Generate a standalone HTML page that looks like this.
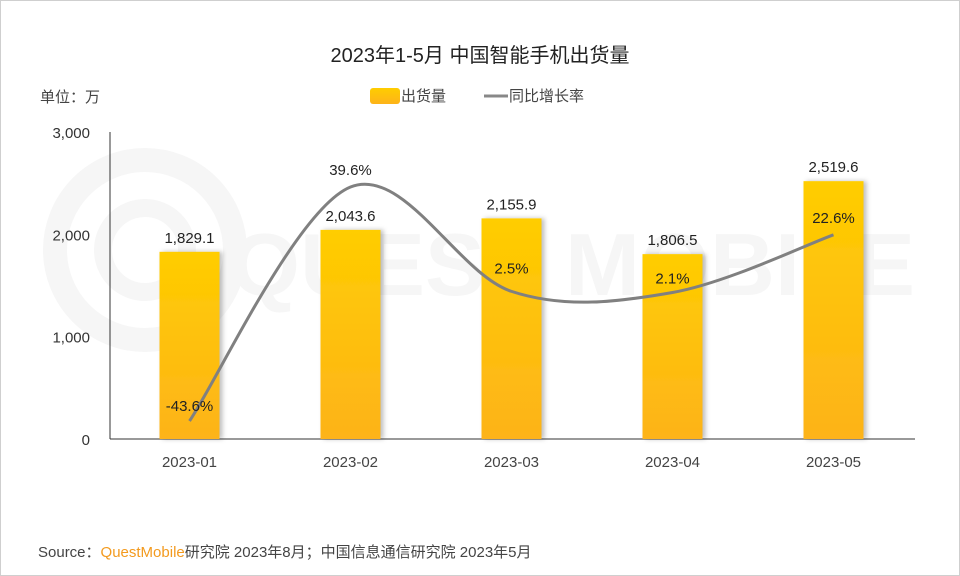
<!DOCTYPE html>
<html><head><meta charset="utf-8">
<style>
body{margin:0;background:#fff;}
svg{display:block;font-family:"Liberation Sans","Noto Sans CJK SC",sans-serif;}
</style></head>
<body>
<svg id="chart" width="960" height="576" viewBox="0 0 960 576">
<defs>
<linearGradient id="bg" x1="0" y1="0" x2="0" y2="1"><stop offset="0" stop-color="#FFCD00"/><stop offset="1" stop-color="#FDB31A"/></linearGradient>
<filter id="sh" x="-20%" y="-5%" width="150%" height="110%"><feDropShadow dx="3" dy="0" stdDeviation="2.5" flood-color="#000" flood-opacity="0.25"/></filter>
</defs>
<rect x="0.5" y="0.5" width="959" height="575" fill="#fff" stroke="#cfcfcf"/>
<g>
<circle cx="145" cy="250" r="90" fill="none" stroke="#f6f6f6" stroke-width="24"/>
<circle cx="145" cy="250" r="42" fill="none" stroke="#f6f6f6" stroke-width="18"/>
<text x="230" y="295" font-size="88" fill="#f6f6f6" font-weight="bold" textLength="685" lengthAdjust="spacingAndGlyphs">QUEST MOBILE</text>
</g>
<text x="480" y="62" text-anchor="middle" font-size="20" fill="#222">2023年1-5月 中国智能手机出货量</text>
<text x="40" y="102" font-size="15" fill="#444">单位：万</text>
<g>
<g><rect x="370" y="88" width="30" height="16" rx="3" fill="url(#bg)"/><text x="401" y="101" font-size="15" fill="#444">出货量</text></g>
<g><line x1="484" y1="96" x2="508" y2="96" stroke="#888" stroke-width="3"/><text x="509" y="101" font-size="15" fill="#444">同比增长率</text></g>
</g>
<g id="axes"></g>
<g id="bars"></g>
<g id="line"></g>
<text x="38" y="557" font-size="15" fill="#444">Source：<tspan fill="#F39A1E">QuestMobile</tspan>研究院 2023年8月；中国信息通信研究院 2023年5月</text>
</svg>
<script>
const categories=["2023-01","2023-02","2023-03","2023-04","2023-05"];
const shipments=[1829.1,2043.6,2155.9,1806.5,2519.6];
const shipmentLabels=["1,829.1","2,043.6","2,155.9","1,806.5","2,519.6"];
const growth=[-43.6,39.6,2.5,2.1,22.6];
const growthLabels=["-43.6%","39.6%","2.5%","2.1%","22.6%"];
const yTicks=[0,1000,2000,3000];
const yTickLabels=["0","1,000","2,000","3,000"];

const NS="http://www.w3.org/2000/svg";
const X0=110,X1=915,Y0=439,Y1=132;
const step=(X1-X0)/categories.length;
const xc=i=>X0+step*(i+0.5)-1;
const yv=v=>Y0-(v/3000)*(Y0-Y1);
const yg=v=>298.4-v*2.8125;
function mk(tag,attrs,parent,text){const e=document.createElementNS(NS,tag);for(const k in attrs)e.setAttribute(k,attrs[k]);if(text!==undefined)e.textContent=text;parent.appendChild(e);return e;}
const axes=document.getElementById('axes'),bars=document.getElementById('bars'),lineG=document.getElementById('line');
let a=mk('line',{x1:X0,y1:Y1,x2:X0,y2:Y0,stroke:'#333','stroke-width':1},axes);


a=mk('line',{x1:X0,y1:Y0,x2:X1,y2:Y0,stroke:'#333','stroke-width':1},axes);


yTicks.forEach((t,i)=>{const e=mk('text',{x:90,y:yv(t)+6,'text-anchor':'end','font-size':15,fill:'#333'},axes,yTickLabels[i]);

});
categories.forEach((c,i)=>{
const e=mk('text',{x:xc(i),y:467,'text-anchor':'middle','font-size':15,fill:'#444'},axes,c);


const b=mk('rect',{x:xc(i)-30,y:yv(shipments[i]),width:60,height:Y0-yv(shipments[i]),fill:'url(#bg)',filter:'url(#sh)'},bars);


const l=mk('text',{x:xc(i),y:yv(shipments[i])-9,'text-anchor':'middle','font-size':15,fill:'#222'},bars,shipmentLabels[i]);


});
const pts=growth.map((g,i)=>[xc(i),yg(g)]);
let d='M'+pts[0][0]+','+pts[0][1];
const t=0.5;
for(let i=0;i<pts.length-1;i++){const p0=pts[i-1]||pts[i],p1=pts[i],p2=pts[i+1],p3=pts[i+2]||p2;
d+=` C${p1[0]+(p2[0]-p0[0])*t/3},${p1[1]+(p2[1]-p0[1])*t/3} ${p2[0]-(p3[0]-p1[0])*t/3},${p2[1]-(p3[1]-p1[1])*t/3} ${p2[0]},${p2[1]}`;}
const path=mk('path',{d:d,fill:'none',stroke:'#808080','stroke-width':3},lineG);


pts.forEach((p,i)=>{const dy=i===0?-10:(i===1?-12:(i===2?-18:(i===3?-9:-12)));
const e=mk('text',{x:p[0],y:p[1]+dy,'text-anchor':'middle','font-size':15,fill:'#222'},lineG,growthLabels[i]);

});
</script>
</body></html>
